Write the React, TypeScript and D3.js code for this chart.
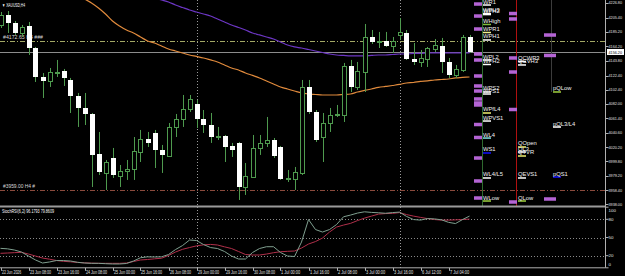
import * as d3 from "d3";

const W = 625;
const H = 276;

// XAUUSD H4 candles (open, high, low, close)
const opens = [4194.9, 4209.2, 4197.8, 4183.4, 4193.5, 4161.9, 4120.4, 4114.7, 4126.1, 4129.0, 4116.1, 4093.2, 4076.0, 4067.4, 4010.1, 3982.9, 4004.4, 3978.6, 3985.7, 3988.6, 4013.0, 4031.6, 4040.2, 4015.8, 4007.2, 4048.8, 4060.2, 4074.6, 4081.7, 4060.2, 4051.6, 4034.4, 4035.9, 4021.6, 4025.9, 3962.8, 3977.1, 4018.7, 4025.9, 4030.2, 4020.1, 3974.3, 3974.3, 3982.9, 4106.1, 4070.3, 4034.4, 4054.5, 4066.0, 4066.0, 4136.2, 4106.1, 4127.6, 4177.7, 4170.5, 4172.0, 4164.8, 4180.6, 4183.4, 4146.2, 4141.9, 4146.2, 4160.5, 4164.8, 4141.9, 4123.3, 4130.4, 4177.7];
const highs = [4213.5, 4214.9, 4200.6, 4194.9, 4199.2, 4163.4, 4126.1, 4133.3, 4144.8, 4131.9, 4119.0, 4097.5, 4097.5, 4068.8, 4041.6, 4001.5, 4018.7, 3994.3, 4001.5, 4034.4, 4044.5, 4041.6, 4044.5, 4023.0, 4054.5, 4067.4, 4094.6, 4094.6, 4087.5, 4073.1, 4068.8, 4048.8, 4037.3, 4025.9, 4027.3, 3997.2, 4037.3, 4037.3, 4063.1, 4033.0, 4021.6, 3987.2, 3991.5, 4116.1, 4116.1, 4073.1, 4068.8, 4076.0, 4080.3, 4140.5, 4144.8, 4141.9, 4196.3, 4187.7, 4184.9, 4184.9, 4177.7, 4204.9, 4187.7, 4169.1, 4159.1, 4163.4, 4174.8, 4176.3, 4147.6, 4137.6, 4180.6, 4180.6];
const lows = [4190.6, 4183.4, 4180.6, 4177.7, 4151.9, 4113.2, 4090.3, 4106.1, 4120.4, 4107.5, 4068.8, 4048.8, 4051.6, 3962.8, 3980.0, 3958.5, 3975.7, 3962.8, 3972.9, 3972.9, 3998.6, 4020.1, 3990.0, 3982.9, 4005.8, 4034.4, 4048.8, 4070.3, 4047.3, 4040.2, 4025.9, 4030.2, 3998.6, 4005.8, 3944.2, 3951.4, 3975.7, 4008.7, 4020.1, 4004.4, 3972.9, 3970.0, 3958.5, 3980.0, 4067.4, 4027.3, 3998.6, 4041.6, 4063.1, 4055.9, 4098.9, 4101.8, 4098.9, 4167.7, 4161.9, 4163.4, 4154.8, 4173.4, 4144.8, 4137.6, 4134.7, 4134.7, 4156.2, 4126.1, 4119.0, 4119.0, 4127.6, 4154.8];
const closes = [4209.2, 4197.8, 4183.4, 4192.0, 4161.9, 4120.4, 4114.7, 4127.6, 4127.6, 4119.0, 4093.2, 4076.0, 4067.4, 4008.7, 3984.3, 3998.6, 3980.0, 3985.7, 3988.6, 4014.4, 4031.6, 4025.9, 4015.8, 4008.7, 4048.8, 4060.2, 4074.6, 4088.9, 4060.2, 4051.6, 4034.4, 4035.9, 4020.1, 4015.8, 3962.8, 3978.6, 4018.7, 4025.9, 4030.2, 4007.2, 3974.3, 3975.7, 3984.3, 4106.1, 4070.3, 4030.2, 4054.5, 4066.0, 4067.4, 4136.2, 4106.1, 4129.0, 4177.7, 4170.5, 4172.0, 4164.8, 4172.0, 4184.9, 4146.2, 4141.9, 4147.6, 4161.9, 4166.2, 4141.9, 4123.3, 4131.9, 4177.7, 4156.2];

// moving averages (start index: earlier values lie above the chart)
const maFastStart = 12;
const maFast = [4232.1, 4226.4, 4219.2, 4210.6, 4200.6, 4193.5, 4187.7, 4183.4, 4177.7, 4172.0, 4169.1, 4164.8, 4160.5, 4157.6, 4154.8, 4151.9, 4149.8, 4147.6, 4144.8, 4141.9, 4137.6, 4133.3, 4130.4, 4126.1, 4122.6, 4119.0, 4114.7, 4110.4, 4106.1, 4103.2, 4100.3, 4097.5, 4096.0, 4095.3, 4094.6, 4094.6, 4094.6, 4095.3, 4096.0, 4098.9, 4101.1, 4103.2, 4105.4, 4106.8, 4108.2, 4109.7, 4111.8, 4112.5, 4114.0, 4114.7, 4116.1, 4116.8, 4117.5, 4119.0, 4119.7, 4120.4];
const maSlowStart = 22;
const maSlow = [4233.6, 4230.7, 4227.8, 4223.5, 4219.9, 4216.4, 4213.5, 4210.6, 4207.8, 4203.5, 4199.2, 4194.9, 4191.3, 4187.7, 4183.4, 4180.6, 4177.7, 4174.8, 4170.5, 4166.2, 4163.4, 4161.9, 4159.8, 4157.6, 4155.5, 4153.3, 4151.9, 4151.2, 4150.5, 4150.5, 4150.5, 4151.2, 4151.9, 4151.9, 4152.6, 4153.3, 4153.3, 4154.1, 4154.1, 4154.8, 4154.8, 4154.8, 4154.8, 4154.8, 4154.8, 4154.8];

// stochastic
const stochMain = [32.1, 31.3, 29.3, 26.0, 19.4, 12.9, 7.9, 9.6, 12.0, 12.0, 11.2, 9.1, 7.9, 7.4, 7.4, 6.8, 6.3, 6.3, 7.1, 11.2, 16.6, 18.1, 17.8, 18.1, 21.9, 30.1, 36.7, 45.8, 45.0, 38.4, 33.4, 31.8, 26.9, 19.4, 14.5, 14.5, 25.2, 31.8, 34.8, 34.8, 25.2, 19.4, 18.6, 42.5, 79.6, 63.1, 59.0, 63.1, 71.3, 84.2, 87.0, 90.3, 92.4, 91.4, 90.8, 90.0, 91.1, 91.9, 84.8, 79.6, 78.7, 81.2, 80.7, 79.2, 75.0, 73.0, 79.6, 85.3];
const stochSignal = [23.9, 24.4, 25.0, 25.5, 22.7, 19.4, 16.1, 14.2, 12.0, 10.7, 9.9, 8.9, 8.2, 7.7, 7.4, 7.4, 7.4, 7.4, 7.9, 10.4, 12.9, 13.7, 14.8, 15.8, 20.3, 26.0, 30.5, 33.4, 36.2, 37.9, 38.6, 37.6, 34.6, 31.8, 26.9, 21.9, 21.1, 21.1, 22.7, 24.9, 26.5, 27.2, 27.7, 32.6, 39.2, 43.3, 49.1, 59.0, 67.2, 70.5, 73.3, 77.9, 82.0, 85.3, 88.6, 89.5, 89.8, 91.1, 87.8, 85.3, 83.2, 81.2, 79.6, 78.7, 78.7, 79.1, 79.6, 80.4];
const stochLevels = [80, 50, 20];
const stochAxis = [100, 80, 50, 20, 0];

const priceTicks = [4226.8, 4205.4, 4185.2, 4164.2, 4143.8, 4122.4, 4102.4, 4082.0, 4061.4, 4040.6, 4020.2, 3999.8, 3979.2, 3958.4, 3938.0];

const timeLabels = ["22 Jun 2026", "23 Jun 08:00", "23 Jun 16:00", "24 Jun 08:00", "25 Jun 00:00", "25 Jun 16:00", "26 Jun 08:00", "29 Jun 00:00", "29 Jun 16:00", "30 Jun 08:00", "1 Jul 00:00", "1 Jul 16:00", "2 Jul 08:00", "3 Jul 00:00", "3 Jul 16:00", "6 Jul 12:00", "7 Jul 04:00"];
const timeLabelBars = [0, 4, 8, 12, 16, 20, 24, 28, 32, 36, 40, 44, 48, 52, 56, 60, 64];
const separatorBars = [28, 57];

// horizontal objects
const upperLevel = 4172.6;
const lowerLevel = 3959.0;

// pivot level labels: name, price, column, marker colour
const levelNames = ["WR1", "WPH3", "WPH2", "WHigh", "WPR1", "WPH1", "WPL2", "WPH2", "WPS2", "WPS1", "WPfL4", "WPVS1", "WL4", "WS1", "WL4/L5", "WLow",
  "QCWR3", "QCVH3", "QOpen", "QL3", "QTVR", "QEVS1", "QLow",
  "pQLow", "pQL3/L4", "pQS1"];
const levelPrices = [4223.5, 4211.3, 4209.8, 4195.6, 4184.1, 4173.4, 4144.7, 4138.3, 4098.9, 4096.0, 4068.8, 4057.3, 4032.9, 4011.5, 3975.7, 3942.7,
  4142.6, 4137.6, 4020.1, 4012.9, 4007.2, 3975.7, 3942.7,
  4098.9, 4048.7, 3977.1];
const levelCols = [0, 0, 0, 0, 0, 0, 0, 0, 0, 0, 0, 0, 0, 0, 0, 0, 1, 1, 1, 1, 1, 1, 1, 2, 2, 2];
const levelColors = ["#ffffff", "#ffffff", "#ffffff", "#7fbf3f", "#f0f090", "#ffffff", "#ffffff", "#ffffff", "#ffffff", "#ffffff", "#f0f070", "#ffffff", "#80e0e0", "#1010ff", "#ffffff", "#9fcf3f",
  "#ffffff", "#ffffff", "#f0f070", "#ffffff", "#f0f070", "#ffffff", "#9fcf3f",
  "#9fcf3f", "#ffffff", "#1010ff"];

// purple zones: column, price
const zoneCols = [0, 0, 0, 0, 0, 0, 0, 0, 0, 0, 0, 0, 0, 0, 0, 0, 1, 1, 1, 1, 1, 1, 2, 2, 2];
const zonePrices = [4224.9, 4207.7, 4189.1, 4153.3, 4144.7, 4121.8, 4107.5, 4100.3, 4088.9, 4083.1, 4080.3, 4052.3, 4033.7, 4004.3, 3971.4, 3947.0,
  4211.3, 4203.5, 4147.6, 4127.5, 4073.8, 3941.3,
  4180.5, 4151.2, 3945.6];

const FONT = "'Liberation Sans', Arial, sans-serif";
const axisX = 605.5;
const mainBottom = 207;
const subTop = 207;
const subBottom = 267.8;

export default function App() {
  const x = d3.scaleLinear().domain([0, 67]).range([0.5, 469.5]);
  const y = d3.scaleLinear().domain([3938.0, 4226.8]).range([204.3, 2.7]);
  const ys = d3.scaleLinear().domain([0, 100]).range([subBottom, subTop + 0.2]);

  const colX = [482, 517, 552];
  const zoneX = [474, 509, 544];
  const zoneW = [8, 8, 12];

  const fastLine = d3.line<number>().x((_, i) => x(i + maFastStart)).y((d) => y(d)).curve(d3.curveMonotoneX);
  const slowLine = d3.line<number>().x((_, i) => x(i + maSlowStart)).y((d) => y(d)).curve(d3.curveMonotoneX);
  const stLine = d3.line<number>().x((_, i) => x(i)).y((d) => ys(d));

  const last = closes[closes.length - 1];
  const px = (v: number) => Math.round(v) + 0.5;

  return (
    <svg width={W} height={H} style={{ position: "absolute", left: 0, top: 0, background: "#000" }} fontFamily={FONT}>
      <rect width={W} height={H} fill="#000" />
      <defs>
        <clipPath id="main">
          <rect x={0} y={0} width={axisX} height={mainBottom} />
        </clipPath>
        <clipPath id="sub">
          <rect x={0} y={subTop} width={axisX} height={subBottom - subTop} />
        </clipPath>
      </defs>

      {/* period separators */}
      {separatorBars.map((b) => (
        <line key={b} x1={px(x(b))} x2={px(x(b))} y1={0} y2={subBottom} stroke="#9a9a9a" strokeDasharray="1,2" />
      ))}

      <g clipPath="url(#main)">
        {/* horizontal objects */}
        <line x1={0} x2={axisX} y1={px(y(upperLevel))} y2={px(y(upperLevel))} stroke="#a3a865" strokeDasharray="5,2,1,2" />
        <line x1={0} x2={axisX} y1={px(y(lowerLevel))} y2={px(y(lowerLevel))} stroke="#8b4a3c" strokeDasharray="5,2,1,2" />
        <text x={3} y={y(upperLevel) - 2} fontSize={5} fill="#d8d8d8" textLength={40} lengthAdjust="spacingAndGlyphs">#4172.65 H4 ###</text>
        <text x={3} y={y(lowerLevel) - 2} fontSize={5} fill="#d8d8d8" textLength={32} lengthAdjust="spacingAndGlyphs">#3959.00 H4 #</text>

        {/* current price */}
        <line x1={0} x2={axisX} y1={px(y(last))} y2={px(y(last))} stroke="#8c8c8c" />

        {/* moving averages */}
        <path d={slowLine(maSlow) || ""} fill="none" stroke="#6c36c4" strokeWidth={1.2} />
        <path d={fastLine(maFast) || ""} fill="none" stroke="#e08a3c" strokeWidth={1.2} />

        {/* candles */}
        {opens.map((o, i) => {
          const c = closes[i];
          const cx = px(x(i));
          const up = c >= o;
          const top = Math.round(y(Math.max(o, c)));
          const bot = Math.round(y(Math.min(o, c)));
          return (
            <g key={i}>
              <line x1={cx} x2={cx} y1={y(highs[i])} y2={y(lows[i])} stroke="#4e9a4e" />
              {up ? (
                <rect x={cx - 2} y={top + 0.5} width={4} height={Math.max(bot - top, 1)} fill="#000" stroke="#4e9a4e" />
              ) : (
                <rect x={cx - 2.5} y={top} width={5} height={Math.max(bot - top, 1)} fill="#fff" />
              )}
            </g>
          );
        })}

        {/* right-hand level indicator */}
        <line x1={482.5} x2={482.5} y1={0} y2={mainBottom} stroke="#2e6a2e" />
        <line x1={516.5} x2={516.5} y1={0} y2={mainBottom} stroke="#b01010" />
        <line x1={551.5} x2={551.5} y1={0} y2={y(4098.9)} stroke="#3c3c3c" />
        {zonePrices.map((p, i) => (
          <rect key={"z" + i} x={zoneX[zoneCols[i]]} y={y(p) - 1.75} width={zoneW[zoneCols[i]]} height={3.5} fill="#b464d4" />
        ))}
        {levelNames.map((n, i) => {
          const lx = colX[levelCols[i]] + 1;
          const ly = y(levelPrices[i]);
          return (
            <g key={"l" + i}>
              <rect x={lx} y={ly - 0.75} width={8} height={1.5} fill={levelColors[i]} />
              <text x={lx} y={ly - 1.5} fontSize={5.8} fill="#f0f0f0">{n}</text>
            </g>
          );
        })}
      </g>

      {/* header */}
      <text x={2} y={7} fontSize={5} fill="#ffffff" textLength={23} lengthAdjust="spacingAndGlyphs">▼ XAUUSD,H4</text>

      {/* subwindow */}
      <line x1={0} x2={axisX} y1={subTop - 0.5} y2={subTop - 0.5} stroke="#9a9a9a" strokeWidth={2} />
      {stochLevels.map((l) => (
        <line key={l} x1={0} x2={axisX} y1={px(ys(l))} y2={px(ys(l))} stroke="#8a8a8a" strokeDasharray="1,2" />
      ))}
      <g clipPath="url(#sub)">
        <path d={stLine(stochSignal) || ""} fill="none" stroke="#b0304a" />
        <path d={stLine(stochMain) || ""} fill="none" stroke="#7f9f8f" />
      </g>
      <text x={2} y={213} fontSize={5} fill="#ffffff" textLength={52} lengthAdjust="spacingAndGlyphs">StochRSI(6,2) 96.1793 79.8609</text>
      <line x1={0} x2={axisX} y1={subBottom} y2={subBottom} stroke="#b0b0b0" />

      {/* right axis */}
      <line x1={axisX} x2={axisX} y1={0} y2={subBottom} stroke="#b0b0b0" />
      {priceTicks.map((p) => (
        <g key={p}>
          <line x1={axisX} x2={axisX + 3} y1={px(y(p))} y2={px(y(p))} stroke="#b0b0b0" />
          <text x={608.5} y={y(p) + 1.6} fontSize={4.4} fill="#e0e0e0" textLength={13.5} lengthAdjust="spacingAndGlyphs">{p.toFixed(2)}</text>
        </g>
      ))}
      <rect x={607} y={y(last) - 3} width={17} height={6} fill="#ffffff" />
      <text x={608.5} y={y(last) + 1.6} fontSize={4.4} fill="#000" textLength={13.5} lengthAdjust="spacingAndGlyphs">{last.toFixed(2)}</text>
      {stochAxis.map((v) => {
        const ty = Math.min(Math.max(ys(v), subTop + 3), subBottom - 3.5);
        return (
          <g key={v}>
            <line x1={axisX} x2={axisX + 3} y1={ys(v)} y2={ys(v)} stroke="#b0b0b0" />
            <text x={608.5} y={ty + 1.6} fontSize={4.4} fill="#e0e0e0">{v}</text>
          </g>
        );
      })}

      {/* time axis */}
      {timeLabelBars.map((b, i) => (
        <g key={b}>
          <line x1={px(x(b))} x2={px(x(b))} y1={subBottom} y2={subBottom + 3} stroke="#b0b0b0" />
          <text x={Math.round(x(b)) + 1} y={274} fontSize={4.8} fill="#e0e0e0" textLength={timeLabels[i].length * 1.75} lengthAdjust="spacingAndGlyphs">{timeLabels[i]}</text>
        </g>
      ))}
    </svg>
  );
}
